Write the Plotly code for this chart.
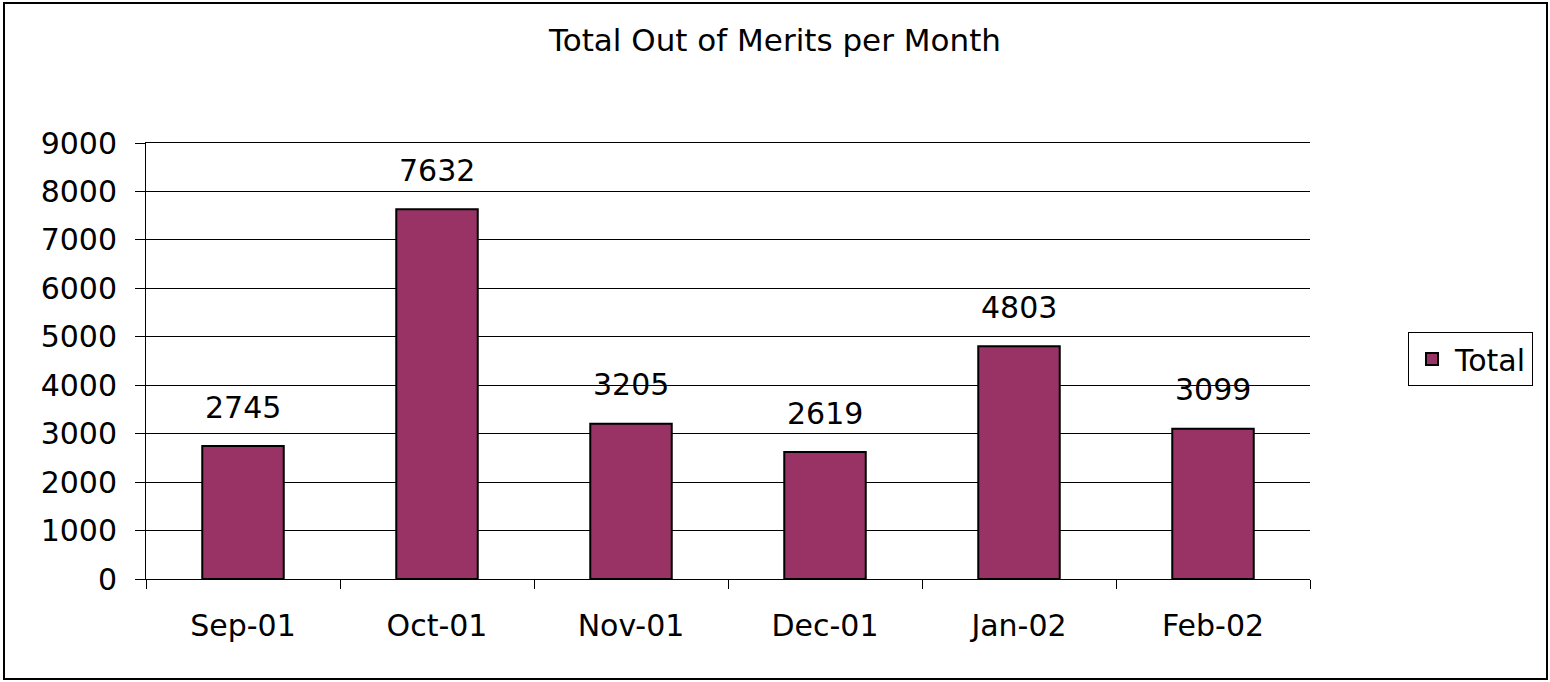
import plotly.graph_objects as go

months = ["Sep-01", "Oct-01", "Nov-01", "Dec-01", "Jan-02", "Feb-02"]
totals = [2745, 7632, 3205, 2619, 4803, 3099]
series_name = "Total"
title_text = "Total Out of Merits per Month"
y_ticks = list(range(0, 9001, 1000))

FONT = "DejaVu Sans, Liberation Sans, Arial, sans-serif"
FS = 30
W, H = 1550, 682
L, R, T, B = 146, 240, 143, 103
pw, ph = W - L - R, H - T - B

def px_x(p):
    return (p - L) / pw

def px_y(p):
    return (H - B - p) / ph

fig = go.Figure()
fig.add_trace(go.Bar(
    x=months, y=totals, name=series_name,
    marker=dict(color="#993366", line=dict(color="black", width=2)),
    showlegend=True,
))

for m, v in zip(months, totals):
    fig.add_annotation(x=m, y=v, text=str(v), showarrow=False,
                       yshift=39, font=dict(family=FONT, size=FS, color="black"))

fig.add_shape(type="rect", xref="paper", yref="paper",
              x0=px_x(4), x1=px_x(1547), y0=px_y(679), y1=px_y(3),
              line=dict(color="black", width=2), layer="below")

fig.update_layout(
    width=W, height=H,
    margin=dict(l=L, r=R, t=T, b=B, autoexpand=False),
    paper_bgcolor="white", plot_bgcolor="white",
    title=dict(text=title_text, x=0.5, xanchor="center", xref="container",
               y=1 - 40 / H, yanchor="middle",
               font=dict(family=FONT, size=31, color="black")),
    bargap=0.58,
    font=dict(family=FONT, size=FS, color="black"),
    legend=dict(x=px_x(1408), y=px_y(359), xanchor="left", yanchor="middle",
                bordercolor="black", borderwidth=1, bgcolor="white",
                itemwidth=36,
                font=dict(family=FONT, size=FS, color="black")),
    xaxis=dict(type="category", tickson="boundaries", ticks="outside", ticklen=9,
               tickcolor="black", showline=True, linecolor="black", linewidth=1,
               mirror=True, showgrid=False, ticklabelstandoff=20,
               tickfont=dict(family=FONT, size=FS, color="black")),
    yaxis=dict(range=[0, 9000], tickvals=y_ticks, ticks="outside", ticklen=10,
               tickcolor="black", showline=True, linecolor="black", linewidth=1,
               showgrid=True, gridcolor="black", gridwidth=1, zeroline=False,
               ticklabelstandoff=12,
               tickfont=dict(family=FONT, size=FS, color="black")),
)

fig.write_html("out.html", config={"displayModeBar": False},
               post_script="document.body.style.margin='0';document.body.style.overflow='hidden';")
